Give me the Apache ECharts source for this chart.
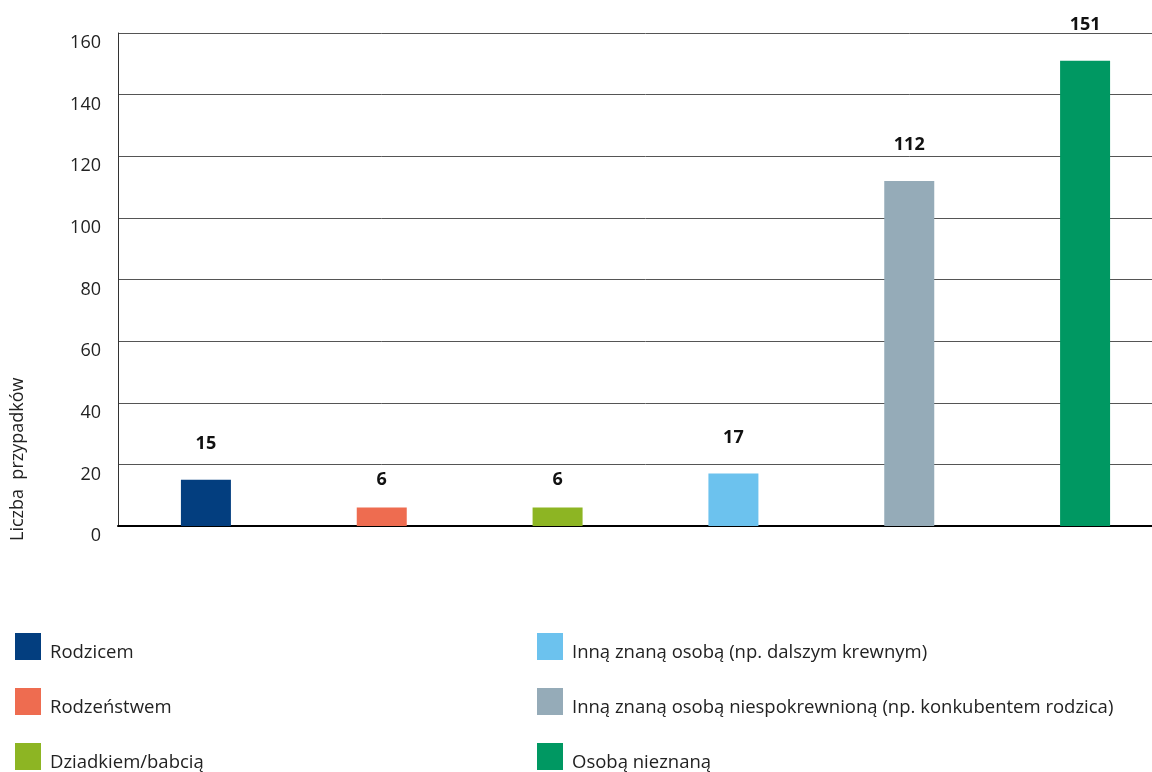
<!DOCTYPE html>
<html lang="pl">
<head>
    <meta charset="UTF-8">
    <title>Liczba przypadków</title>
    <script src="https://cdn.jsdelivr.net/npm/echarts@6/dist/echarts.min.js"></script>
    <style>
        html, body { margin: 0; padding: 0; background: #fff; overflow: hidden; }
        /* wykres szerszy niż okno: ostatnia kolumna wychodzi poza prawą krawędź */
        #main { width: 1175px; height: 772px; }
    </style>
</head>
<body>
<div id="main"></div>
<script type="text/javascript">
    // kategorie i wartości
    var categories = ['Rodzicem', 'Rodzeństwem', 'Dziadkiem/babcią',
        'Inną znaną osobą (np. dalszym krewnym)',
        'Inną znaną osobą niespokrewnioną (np. konkubentem rodzica)',
        'Osobą nieznaną'];
    var values = [15, 6, 6, 17, 112, 151];
    var colors = ['#033e7f', '#ee6c50', '#8db523', '#6cc2ee', '#95abb8', '#009862'];
    var yTicks = [0, 20, 40, 60, 80, 100, 120, 140, 160];

    var font = '"Open Sans", "Noto Sans", sans-serif';

    // każda kategoria jako osobna seria (dla legendy), ułożone w stos
    var series = [];
    for (var i = 0; i < categories.length; i++) {
        var data = [];
        for (var j = 0; j < categories.length; j++) {
            data.push(i === j ? values[i] : '-');
        }
        series.push({
            name: categories[i],
            type: 'bar',
            stack: 'all',
            barWidth: 50,
            itemStyle: { color: colors[i] },
            label: {
                show: true,
                position: 'top',
                // niskie słupki mają etykietę bliżej
                distance: values[i] < 10 ? 19 : 27,
                fontFamily: font,
                fontWeight: 'bold',
                fontSize: 18,
                color: '#111'
            },
            data: data
        });
    }

    var legendBase = {
        orient: 'vertical',
        padding: 0,
        height: 200,
        itemWidth: 26,
        itemHeight: 27,
        itemGap: 26,
        icon: 'rect',
        formatter: '{t|{name}}',
        textStyle: {
            rich: {
                t: {
                    fontFamily: font,
                    fontSize: 18.5,
                    color: '#222',
                    padding: [12, 0, 0, 4]
                }
            }
        }
    };

    var myChart = echarts.init(document.getElementById('main'));
    var option = {
        animation: false,
        grid: { left: 118, top: 33, height: 493, width: 1055, containLabel: false },
        legend: [
            Object.assign({}, legendBase, { left: 15, top: 633, data: categories.slice(0, 3) }),
            Object.assign({}, legendBase, { left: 537, top: 633, data: categories.slice(3) })
        ],
        graphic: [{
            type: 'text',
            x: 9,
            y: 541,
            rotation: Math.PI / 2,
            style: {
                text: 'Liczba  przypadków',
                fontFamily: font,
                fontSize: 18,
                fill: '#222',
                align: 'left',
                verticalAlign: 'top'
            }
        }],
        xAxis: {
            type: 'category',
            data: categories,
            axisLine: { lineStyle: { color: '#000', width: 2 } },
            axisTick: { show: false },
            axisLabel: { show: false }
        },
        yAxis: {
            type: 'value',
            min: yTicks[0],
            max: yTicks[yTicks.length - 1],
            interval: 20,
            axisLine: { show: true, lineStyle: { color: '#333', width: 1 } },
            axisTick: { show: false },
            axisLabel: {
                fontFamily: font,
                fontSize: 18,
                color: '#222',
                margin: 17,
                verticalAlign: 'top',
                padding: [1, 0, 0, 0]
            },
            splitLine: { lineStyle: { color: '#555', width: 1 } }
        },
        series: series
    };
    myChart.setOption(option);
</script>
</body>
</html>
